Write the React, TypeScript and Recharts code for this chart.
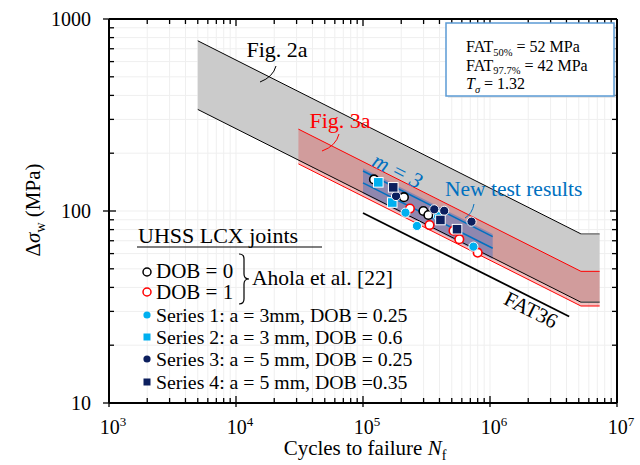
import React from 'react'
import { ComposedChart, Area, Line, Scatter, XAxis, YAxis, CartesianGrid } from 'recharts'

const FONT = '"Liberation Serif", "Times New Roman", serif'

// axis ticks (log decades with minor ticks)
const xTicks = [
  1e3, 2e3, 3e3, 4e3, 5e3, 6e3, 7e3, 8e3, 9e3,
  1e4, 2e4, 3e4, 4e4, 5e4, 6e4, 7e4, 8e4, 9e4,
  1e5, 2e5, 3e5, 4e5, 5e5, 6e5, 7e5, 8e5, 9e5,
  1e6, 2e6, 3e6, 4e6, 5e6, 6e6, 7e6, 8e6, 9e6,
  1e7,
]
const xMajor = [1e3, 1e4, 1e5, 1e6, 1e7]
const xMajorLabels = ['3', '4', '5', '6', '7']
const yTicks = [10, 20, 30, 40, 50, 60, 70, 80, 90, 100, 200, 300, 400, 500, 600, 700, 800, 900, 1000]
const yMajor = [10, 100, 1000]
const yMajorLabels = ['10', '100', '1000']

// Fig. 2a scatter band (grey)
const fig2aN = [5000, 5.2e6, 7.3e6]
const fig2aUpper = [770, 76, 76]
const fig2aLower = [338, 33.5, 33.5]

// Fig. 3a scatter band (red)
const fig3aN = [3.1e4, 5.2e6, 7.3e6]
const fig3aUpper = [267, 48.5, 48.5]
const fig3aLower = [176, 32, 32]

// new test results band (blue)
const newN = [1e5, 1.05e6]
const newShadeUpper = [167, 76]
const newShadeLower = [123, 56]
const newLineUpper = [161.5, 73.5]
const newLineMean = [140, 64]

// FAT36 design curve
const fat36N = [1e5, 4.2e6]
const fat36S = [97.7, 28.2]

// test points
const dob0N = [1.22e5, 2.1e5, 2.99e5, 3.27e5]
const dob0S = [146, 118, 100, 95.3]
const dob1N = [2.34e5, 3.34e5, 5.16e5, 5.73e5, 8.0e5]
const dob1S = [103, 84.5, 79, 71.3, 60.7]
const s1N = [2.16e5, 2.66e5, 3.9e5, 7.4e5]
const s1S = [98, 83.6, 94, 65.2]
const s2N = [1.32e5, 1.7e5]
const s2S = [141, 110.7]
const s3N = [1.82e5, 3.64e5, 4.36e5, 7.15e5]
const s3S = [119.7, 102, 100.2, 88]
const s4N = [1.73e5, 4.07e5, 5.5e5]
const s4S = [132.8, 89.8, 80.4]

const pts = (n: number[], s: number[]) => n.map((N, i) => ({ N, S: s[i] }))
const band = (n: number[], lo: number[], hi: number[]) => n.map((N, i) => ({ N, range: [lo[i], hi[i]] }))

const CYAN = '#00b0f0'
const NAVY = '#0c1f5e'
const BLUE = '#0070c0'
const RED = '#ff0000'

function BottomTick(props: any) {
  const { x, y, payload } = props
  const i = xMajor.indexOf(payload.value)
  const major = i >= 0
  return (
    <g>
      <line x1={x} x2={x} y1={major ? y + 4 : y} y2={y - (major ? 7 : 5)} stroke="#000" strokeWidth={1.3} />
      {major && (
        <text x={x + 4} y={y + 31} textAnchor="middle" fontFamily={FONT} fontSize={20} fill="#000">
          10<tspan dy={-8} fontSize={13}>{xMajorLabels[i]}</tspan>
        </text>
      )}
    </g>
  )
}

function TopTick(props: any) {
  const { x, y, payload } = props
  const major = xMajor.includes(payload.value)
  return <line x1={x} x2={x} y1={y} y2={y + (major ? 7 : 5)} stroke="#000" strokeWidth={1.3} />
}

function LeftTick(props: any) {
  const { x, y, payload } = props
  const i = yMajor.indexOf(payload.value)
  const major = i >= 0
  return (
    <g>
      <line x1={major ? x - 6 : x} x2={x + (major ? 7 : 5)} y1={y} y2={y} stroke="#000" strokeWidth={1.3} />
      {major && (
        <text x={x - 18} y={y + 7} textAnchor="end" fontFamily={FONT} fontSize={20} fill="#000">
          {yMajorLabels[i]}
        </text>
      )}
    </g>
  )
}

function RightTick(props: any) {
  const { x, y, payload } = props
  const major = yMajor.includes(payload.value)
  return <line x1={x} x2={x - (major ? 7 : 5)} y1={y} y2={y} stroke="#000" strokeWidth={1.3} />
}

const openCircle = (stroke: string) => (p: any) => (
  <circle cx={p.cx} cy={p.cy} r={4.3} fill="#fff" stroke={stroke} strokeWidth={1.6} />
)
const dot = (fill: string) => (p: any) => (
  <circle cx={p.cx} cy={p.cy} r={4.6} fill={fill} stroke="#fff" strokeWidth={1} />
)
const square = (fill: string) => (p: any) => (
  <rect x={p.cx - 4.8} y={p.cy - 4.8} width={9.6} height={9.6} fill={fill} stroke="#fff" strokeWidth={1} />
)

const axisLine = { stroke: '#000', strokeWidth: 2 }

function Overlay() {
  const t = { fontFamily: FONT, fill: '#000' }
  const legendRows = [
    { y: 315, label: 'Series 1: a = 3mm, DOB = 0.25', kind: 'dot', color: CYAN },
    { y: 337, label: 'Series 2: a = 3 mm, DOB = 0.6', kind: 'sq', color: CYAN },
    { y: 359, label: 'Series 3: a = 5 mm, DOB = 0.25', kind: 'dot', color: NAVY },
    { y: 382, label: 'Series 4: a = 5 mm, DOB =0.35', kind: 'sq', color: NAVY },
  ]
  return (
    <svg width={640} height={465} style={{ position: 'absolute', left: 0, top: 0, pointerEvents: 'none' }}>
      {/* axis titles */}
      <text x={40} y={210} transform="rotate(-90 40 210)" textAnchor="middle" fontSize={21} {...t}>
        Δ<tspan fontStyle="italic">σ</tspan>
        <tspan fontSize={14} dy={5}>w</tspan>
        <tspan dy={-5}> (MPa)</tspan>
      </text>
      <text x={365} y={455} textAnchor="middle" fontSize={21} {...t}>
        Cycles to failure <tspan fontStyle="italic">N</tspan>
        <tspan fontSize={14} dy={5}>f</tspan>
      </text>

      {/* annotations */}
      <text x={277} y={57} textAnchor="middle" fontSize={22} {...t}>Fig. 2a</text>
      <path d="M276 66 Q273 77 260 82" fill="none" stroke="#000" strokeWidth={1} />
      <text x={340} y={128} textAnchor="middle" fontSize={22} fontFamily={FONT} fill={RED}>Fig. 3a</text>
      <path d="M339 134 Q336 146 322 151" fill="none" stroke={RED} strokeWidth={1} />
      <text x={397} y={178} textAnchor="middle" fontSize={22} fontFamily={FONT} fill={BLUE} fontStyle="italic"
        transform="rotate(26.7 397 172)">m = 3</text>
      <text x={445} y={196} fontSize={21.5} fontFamily={FONT} fill={BLUE}>New test results</text>
      <path d="M474 204 Q472 214 465 218" fill="none" stroke={BLUE} strokeWidth={1} />
      <text x={531} y={317} textAnchor="middle" fontSize={21} {...t} transform="rotate(26.7 531 310)">FAT36</text>

      {/* FAT box */}
      <rect x={448} y={25} width={168} height={73} fill="#d8d8d8" opacity={0.6} />
      <rect x={446} y={23} width={168} height={73} fill="#fff" stroke="#5b9bd5" strokeWidth={1.5} />
      <text x={466} y={52} fontSize={16} {...t}>
        FAT<tspan fontSize={10.5} dy={3.5}>50%</tspan><tspan dy={-3.5}> = 52 MPa</tspan>
      </text>
      <text x={466} y={70.5} fontSize={16} {...t}>
        FAT<tspan fontSize={10.5} dy={3.5}>97.7%</tspan><tspan dy={-3.5}> = 42 MPa</tspan>
      </text>
      <text x={466} y={89} fontSize={16} {...t}>
        <tspan fontStyle="italic">T</tspan><tspan fontSize={10.5} dy={3.5} fontStyle="italic">σ</tspan>
        <tspan dy={-3.5}> = 1.32</tspan>
      </text>

      {/* legend */}
      <text x={138} y={243} fontSize={22} {...t}>UHSS LCX joints</text>
      <line x1={137} x2={322} y1={247} y2={247} stroke="#000" strokeWidth={1.2} />
      <circle cx={147} cy={272} r={4} fill="#fff" stroke="#000" strokeWidth={1.5} />
      <text x={156} y={278} fontSize={21} {...t}>DOB = 0</text>
      <circle cx={147} cy={292} r={4} fill="#fff" stroke={RED} strokeWidth={1.5} />
      <text x={156} y={299} fontSize={21} {...t}>DOB = 1</text>
      <path d="M239 254 Q244 254 244 259 L244 274 Q244 279 249 279 Q244 279 244 284 L244 299 Q244 304 239 304"
        fill="none" stroke="#000" strokeWidth={1.2} />
      <text x={252} y={285} fontSize={21.5} {...t}>Ahola et al. [22]</text>
      {legendRows.map((r) => (
        <g key={r.label}>
          {r.kind === 'dot' ? (
            <circle cx={147} cy={r.y} r={3.6} fill={r.color} />
          ) : (
            <rect x={143.5} y={r.y - 3.5} width={7} height={7} fill={r.color} />
          )}
          <text x={156} y={r.y + 7} fontSize={19.8} {...t}>{r.label}</text>
        </g>
      ))}
    </svg>
  )
}

export default function App() {
  return (
    <div style={{ position: 'absolute', left: 0, top: 0, width: 640, height: 465, background: '#fff' }}>
      <ComposedChart width={640} height={465} margin={{ top: 18, right: 22, bottom: 61, left: 108 }}>
        <XAxis dataKey="N" type="number" scale="log" domain={[1e3, 1e7]} ticks={xTicks} interval={0}
          allowDataOverflow height={1} tickSize={0} tickMargin={0} tickLine={false} axisLine={axisLine}
          tick={(p: any) => <BottomTick {...p} />} />
        <XAxis xAxisId="top" orientation="top" dataKey="N" type="number" scale="log" domain={[1e3, 1e7]}
          ticks={xTicks} interval={0} allowDataOverflow height={1} tickSize={0} tickMargin={0} tickLine={false}
          axisLine={axisLine} tick={(p: any) => <TopTick {...p} />} />
        <YAxis dataKey="S" type="number" scale="log" domain={[10, 1000]} ticks={yTicks} interval={0}
          allowDataOverflow width={1} tickSize={0} tickMargin={0} tickLine={false} axisLine={axisLine}
          tick={(p: any) => <LeftTick {...p} />} />
        <YAxis yAxisId="right" orientation="right" dataKey="S" type="number" scale="log" domain={[10, 1000]}
          ticks={yTicks} interval={0} allowDataOverflow width={1} tickSize={0} tickMargin={0} tickLine={false}
          axisLine={axisLine} tick={(p: any) => <RightTick {...p} />} />

        <Area data={band(fig2aN, fig2aLower, fig2aUpper)} dataKey="range" type="linear" fill="#cbcbcb"
          fillOpacity={1} stroke="none" isAnimationActive={false} />
        <Area data={band(fig3aN, fig3aLower, fig3aUpper)} dataKey="range" type="linear" fill="rgb(225,60,60)"
          fillOpacity={0.32} stroke="none" isAnimationActive={false} />
        <Area data={band(newN, newShadeLower, newShadeUpper)} dataKey="range" type="linear" fill="#3f6fc8"
          fillOpacity={0.45} stroke="none" isAnimationActive={false} />

        <CartesianGrid stroke="#efefef" strokeWidth={1} />

        <Line data={pts(fig2aN.slice(0, 2), fig2aUpper.slice(0, 2))} dataKey="S" type="linear" stroke="#000"
          strokeWidth={1} dot={false} isAnimationActive={false} />
        <Line data={pts(fig2aN.slice(0, 2), fig2aLower.slice(0, 2))} dataKey="S" type="linear" stroke="#000"
          strokeWidth={1} dot={false} isAnimationActive={false} />
        <Line data={pts(fig2aN.slice(1), fig2aUpper.slice(1))} dataKey="S" type="linear" stroke="#777"
          strokeWidth={1.5} dot={false} isAnimationActive={false} />
        <Line data={pts(fig2aN.slice(1), fig2aLower.slice(1))} dataKey="S" type="linear" stroke="#555"
          strokeWidth={1.5} dot={false} isAnimationActive={false} />
        <Line data={pts(fig3aN, fig3aUpper)} dataKey="S" type="linear" stroke={RED} strokeWidth={1}
          dot={false} isAnimationActive={false} />
        <Line data={pts(fig3aN, fig3aLower)} dataKey="S" type="linear" stroke={RED} strokeWidth={1}
          dot={false} isAnimationActive={false} />
        <Line data={pts(newN, newLineUpper)} dataKey="S" type="linear" stroke={BLUE} strokeWidth={1.5}
          dot={false} isAnimationActive={false} />
        <Line data={pts(newN, newLineMean)} dataKey="S" type="linear" stroke={BLUE} strokeWidth={1.5}
          dot={false} isAnimationActive={false} />
        <Line data={pts(fat36N, fat36S)} dataKey="S" type="linear" stroke="#000" strokeWidth={1.8}
          dot={false} isAnimationActive={false} />

        <Scatter data={pts(dob0N, dob0S)} shape={openCircle('#000')} isAnimationActive={false} />
        <Scatter data={pts(dob1N, dob1S)} shape={openCircle(RED)} isAnimationActive={false} />
        <Scatter data={pts(s1N, s1S)} shape={dot(CYAN)} isAnimationActive={false} />
        <Scatter data={pts(s2N, s2S)} shape={square(CYAN)} isAnimationActive={false} />
        <Scatter data={pts(s3N, s3S)} shape={dot(NAVY)} isAnimationActive={false} />
        <Scatter data={pts(s4N, s4S)} shape={square(NAVY)} isAnimationActive={false} />
      </ComposedChart>
      <Overlay />
    </div>
  )
}
